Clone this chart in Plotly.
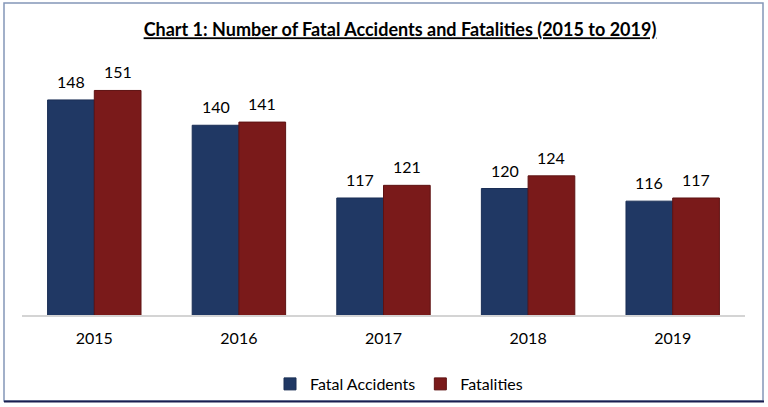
import plotly.graph_objects as go

years = ["2015", "2016", "2017", "2018", "2019"]
fatal_accidents = [148, 140, 117, 120, 116]
fatalities = [151, 141, 121, 124, 117]

W, H = 768, 407
L, R, T, B = 22, 23, 62, 92
pw, ph = W - L - R, H - T - B

def px(x):
    return (x - L) / pw

def py(y):
    return (H - B - y) / ph

font = "Lato, Carlito, Calibri, 'Noto Sans', sans-serif"
navy = "#203864"
red = "#7A1A1A"
bar_half = 23.3  # half of one bar's pixel width, for label offsets

fig = go.Figure()
fig.add_trace(go.Bar(
    x=years, y=fatal_accidents, name="Fatal Accidents",
    marker=dict(color=navy, line=dict(color="#1A2E55", width=1)),
))
fig.add_trace(go.Bar(
    x=years, y=fatalities, name="Fatalities",
    marker=dict(color=red, line=dict(color="#5E1212", width=1)),
))

for series, shift in ((fatal_accidents, -bar_half), (fatalities, bar_half)):
    for i, v in enumerate(series):
        fig.add_annotation(x=i, y=v, text=str(v), showarrow=False,
                           xshift=shift, yshift=7, yanchor="bottom",
                           font=dict(size=16, family=font, color="#000000"))

fig.update_layout(
    width=W, height=H,
    margin=dict(l=L, r=R, t=T, b=B, autoexpand=False),
    paper_bgcolor="white", plot_bgcolor="white",
    barmode="group", bargap=0.354, bargroupgap=0,
    font=dict(family=font, size=16, color="#000000"),
    title=dict(text="<b><u>Chart 1: Number of Fatal Accidents and Fatalities (2015 to 2019)</u></b>",
               x=px(400), xanchor="center", xref="paper",
               y=1 - 30 / H, yanchor="middle", yref="container",
               font=dict(size=18, family=font, color="#000000")),
    xaxis=dict(type="category", range=[-0.5, len(years) - 0.5],
               showline=True, linecolor="#D4D4D4", linewidth=2, ticks="",
               showgrid=False, ticklabelstandoff=8, automargin=False,
               tickfont=dict(size=16, family=font, color="#000000")),
    yaxis=dict(range=[80, 160], visible=False, showgrid=False, automargin=False),
    legend=dict(orientation="h", x=px(399), xanchor="center",
                y=py(384), yanchor="middle", bgcolor="rgba(0,0,0,0)",
                font=dict(size=16, family=font, color="#000000"),
                itemwidth=30, traceorder="normal"),
    showlegend=True,
)

fig.add_shape(type="rect", xref="paper", yref="paper",
              x0=px(4), x1=px(763), y0=py(401), y1=py(3),
              line=dict(color="#8496B8", width=1.5), fillcolor="rgba(0,0,0,0)", layer="above")
fig.add_shape(type="line", xref="paper", yref="paper",
              x0=px(4), x1=px(764), y0=py(401.5), y1=py(401.5),
              line=dict(color="#1A1F50", width=2))

fig.write_html("out.html")
